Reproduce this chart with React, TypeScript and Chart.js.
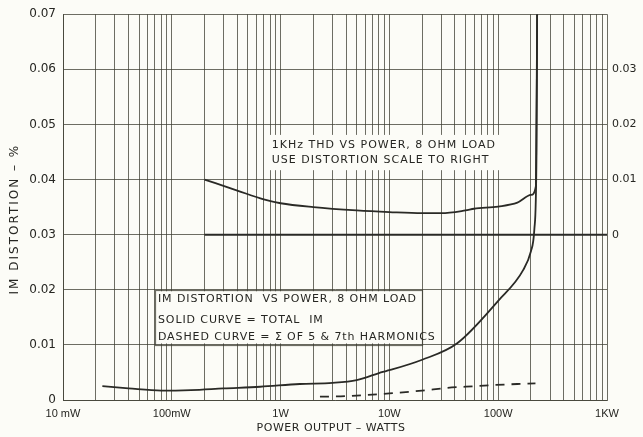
import React, { useEffect, useRef } from 'react';
import { Chart, registerables } from 'chart.js';

Chart.register(...registerables);

// ---- axis ticks ----
const xDecades = [0.01, 0.1, 1, 10, 100, 1000];
const xDecadeLabels = ['10 mW', '100mW', '1W', '10W', '100W', '1KW'];
const xMinorMultipliers = [1, 2, 3, 4, 5, 6, 7, 8, 9];

const yLeftTicks = [0, 0.01, 0.02, 0.03, 0.04, 0.05, 0.06, 0.07];
const yLeftLabels = ['0', '0.01', '0.02', '0.03', '0.04', '0.05', '0.06', '0.07'];
const yRightTicks = [0, 0.01, 0.02, 0.03];
const yRightLabels = ['0', '0.01', '0.02', '0.03'];

// ---- series: total IM distortion (left scale, %) ----
const imPower = [0.023, 0.04, 0.08, 0.15, 0.3, 0.65, 1.5, 3, 5, 8.7, 10, 20, 42, 100, 170, 200, 215, 225, 228];
const imTotal = [0.0025, 0.0021, 0.0017, 0.0018, 0.0021, 0.0024, 0.0029, 0.0031, 0.0036, 0.0051, 0.0054, 0.0073, 0.0103, 0.018, 0.0236, 0.027, 0.031, 0.045, 0.07];

// ---- series: sum of 5th & 7th harmonics (left scale, %) ----
const harmPower = [2.3, 4, 6, 10, 20, 34, 60, 89, 150, 220];
const harmIM = [0.0006, 0.0007, 0.0009, 0.0012, 0.0017, 0.0022, 0.0025, 0.0027, 0.0029, 0.003];

// ---- series: 1kHz THD (right scale, %) ----
const thdPower = [0.2, 0.4, 0.7, 1, 2, 5, 10, 20, 30, 50, 60, 100, 150, 200, 222, 228];
const thdValue = [0.01, 0.008, 0.0064, 0.0057, 0.005, 0.0044, 0.0041, 0.0039, 0.0039, 0.0044, 0.0047, 0.0051, 0.0058, 0.0072, 0.0088, 0.04];

// ---- THD zero reference line (right scale) ----
const thdZeroPower = [0.2, 1000];
const thdZeroValue = [0, 0];

// ---- texts ----
const xTitle = 'POWER OUTPUT – WATTS';
const yTitle = 'IM DISTORTION – %';
const thdNoteLines = ['1KHz THD VS POWER, 8 OHM LOAD', 'USE DISTORTION SCALE TO RIGHT'];
const imNoteLines = ['IM DISTORTION  VS POWER, 8 OHM LOAD', 'SOLID CURVE = TOTAL  IM', 'DASHED CURVE = Σ OF 5 & 7th HARMONICS'];

const BG = '#fcfcf7';
const INK = '#262622';
const GRID = 'rgba(62,62,50,0.75)';

const toPoints = (xs: number[], ys: number[]) => xs.map((x, i) => ({ x, y: ys[i] }));

const xTickValues: number[] = [];
for (let d = 0; d < xDecades.length - 1; d++) {
  for (const m of xMinorMultipliers) xTickValues.push(m * xDecades[d]);
}
xTickValues.push(xDecades[xDecades.length - 1]);

const bgPlugin = {
  id: 'bg',
  beforeDraw(chart: any) {
    const { ctx, width, height } = chart;
    ctx.save();
    ctx.fillStyle = BG;
    ctx.fillRect(0, 0, width, height);
    ctx.restore();
  },
};

const notesPlugin = {
  id: 'notes',
  beforeDatasetsDraw(chart: any) {
    const { ctx, scales } = chart;
    const x = scales.x;
    const y = scales.y;
    ctx.save();
    // THD note box
    {
      const l = x.getPixelForValue(0.75);
      const r = x.getPixelForValue(105);
      const t = y.getPixelForValue(0.0481);
      const b = y.getPixelForValue(0.0417);
      ctx.fillStyle = BG;
      ctx.fillRect(l, t, r - l, b - t);
      ctx.fillStyle = INK;
      ctx.font = '11px "DejaVu Sans"';
      (ctx as any).letterSpacing = '1px';
      ctx.textBaseline = 'middle';
      ctx.textAlign = 'left';
      const tx = x.getPixelForValue(0.83);
      const ly = [0.0463, 0.0436];
      thdNoteLines.forEach((s, i) => ctx.fillText(s, tx, y.getPixelForValue(ly[i])));
    }
    // IM note box (framed by grid lines)
    {
      const l = x.getPixelForValue(0.07);
      const r = x.getPixelForValue(20);
      const t = y.getPixelForValue(0.02);
      const b = y.getPixelForValue(0.01);
      ctx.fillStyle = BG;
      ctx.fillRect(l + 1.5, t + 1.5, r - l - 3, b - t - 3);
      ctx.strokeStyle = GRID;
      ctx.lineWidth = 1.2;
      ctx.strokeRect(Math.round(l) + 0.5, Math.round(t) + 0.5, Math.round(r - l), Math.round(b - t));
      ctx.fillStyle = INK;
      ctx.font = '11px "DejaVu Sans"';
      (ctx as any).letterSpacing = '0.9px';
      ctx.textBaseline = 'middle';
      ctx.textAlign = 'left';
      const tx = l + 3;
      const ly = [0.0183, 0.0145, 0.0114];
      imNoteLines.forEach((s, i) => ctx.fillText(s, tx, y.getPixelForValue(ly[i])));
    }
    ctx.restore();
  },
  afterDraw(chart: any) {
    const { ctx, chartArea } = chart;
    ctx.save();
    ctx.fillStyle = INK;
    ctx.font = '11px "DejaVu Sans"';
    ctx.textBaseline = 'middle';
    ctx.textAlign = 'center';
    (ctx as any).letterSpacing = '0.5px';
    ctx.fillText(xTitle, (chartArea.left + chartArea.right) / 2 - 4, 428);
    ctx.translate(15, (chartArea.top + chartArea.bottom) / 2 + 12);
    ctx.rotate(-Math.PI / 2);
    (ctx as any).letterSpacing = '2px';
    ctx.font = '12px "DejaVu Sans"';
    ctx.fillText(yTitle, 0, 0);
    ctx.restore();
  },
};

export default function App() {
  const canvasRef = useRef<HTMLCanvasElement | null>(null);

  useEffect(() => {
    document.body.style.margin = '0';
    document.body.style.background = BG;
    const canvas = canvasRef.current;
    if (!canvas) return;

    const chart = new Chart(canvas, {
      type: 'scatter',
      data: {
        datasets: [
          {
            label: 'Total IM',
            data: toPoints(imPower, imTotal),
            yAxisID: 'y',
            showLine: true,
            borderColor: '#2a2a26',
            borderWidth: 1.8,
            pointRadius: 0,
            cubicInterpolationMode: 'monotone',
          },
          {
            label: 'Σ of 5 & 7th harmonics',
            data: toPoints(harmPower, harmIM),
            yAxisID: 'y',
            showLine: true,
            borderColor: '#2a2a26',
            borderWidth: 1.8,
            borderDash: [9, 7],
            pointRadius: 0,
            cubicInterpolationMode: 'monotone',
          },
          {
            label: '1kHz THD',
            data: toPoints(thdPower, thdValue),
            yAxisID: 'y2',
            showLine: true,
            borderColor: '#2a2a26',
            borderWidth: 1.8,
            pointRadius: 0,
            cubicInterpolationMode: 'monotone',
          },
          {
            label: 'THD zero',
            data: toPoints(thdZeroPower, thdZeroValue),
            yAxisID: 'y2',
            showLine: true,
            borderColor: '#2a2a26',
            borderWidth: 2,
            pointRadius: 0,
          },
        ],
      },
      options: {
        responsive: false,
        animation: false,
        devicePixelRatio: 1,
        layout: { padding: { top: 14, left: 0, right: 0, bottom: 0 } },
        plugins: {
          legend: { display: false },
          tooltip: { enabled: false },
        },
        events: [],
        scales: {
          x: {
            type: 'logarithmic',
            min: 0.01,
            max: 1000,
            afterBuildTicks(scale: any) {
              scale.ticks = xTickValues.map((v) => ({ value: v }));
            },
            afterFit(scale: any) {
              scale.height = 37;
            },
            ticks: {
              autoSkip: false,
              maxRotation: 0,
              minRotation: 0,
              padding: 7,
              color: INK,
              font: { family: '"Liberation Sans"', size: 11 },
              callback: (value: any) => {
                const idx = xDecades.indexOf(Number(value));
                return idx >= 0 ? xDecadeLabels[idx] : '';
              },
            },
            grid: { color: GRID, lineWidth: 1, drawTicks: false },
            border: { display: true, color: GRID, width: 1 },
          },
          y: {
            type: 'linear',
            position: 'left',
            min: 0,
            max: 0.07,
            afterBuildTicks(scale: any) {
              scale.ticks = yLeftTicks.map((v) => ({ value: v }));
            },
            afterFit(scale: any) {
              scale.width = 63;
            },
            ticks: {
              padding: 7,
              color: INK,
              font: { family: '"DejaVu Sans"', size: 12 },
              callback: (_v: any, i: number) => yLeftLabels[i],
            },
            grid: { color: GRID, lineWidth: 1, drawTicks: false },
            border: { display: true, color: GRID, width: 1 },
          },
          y2: {
            type: 'linear',
            position: 'right',
            min: -0.03,
            max: 0.04,
            afterBuildTicks(scale: any) {
              scale.ticks = yRightTicks.map((v) => ({ value: v }));
            },
            afterFit(scale: any) {
              scale.width = 36;
            },
            ticks: {
              padding: 5,
              color: INK,
              font: { family: '"DejaVu Sans"', size: 11 },
              callback: (_v: any, i: number) => yRightLabels[i],
            },
            grid: { display: false, drawTicks: false },
            border: { display: false },
          },
        },
      },
      plugins: [bgPlugin, notesPlugin],
    } as any);

    return () => {
      chart.destroy();
    };
  }, []);

  return (
    <div style={{ width: 643, height: 437 }}>
      <canvas ref={canvasRef} width={643} height={437} style={{ display: 'block' }} />
    </div>
  );
}
